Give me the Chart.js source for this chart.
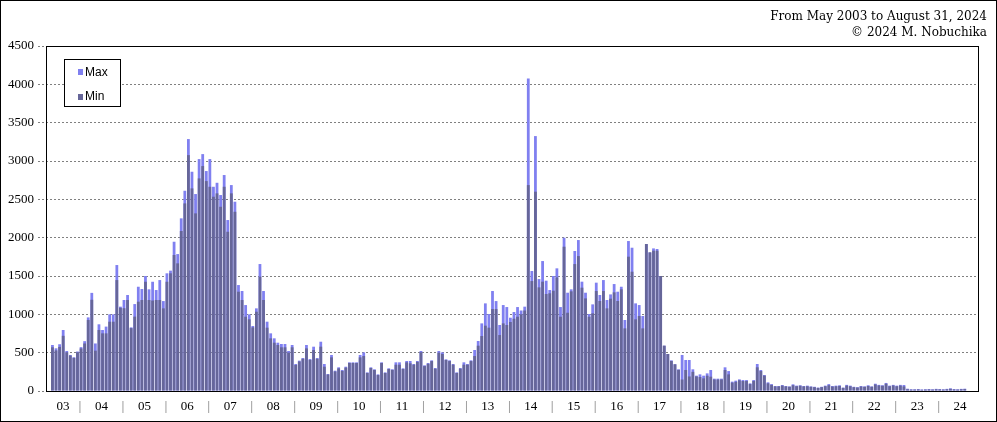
<!DOCTYPE html>
<html>
<head>
<meta charset="utf-8">
<script src="https://cdn.jsdelivr.net/npm/chart.js@4"></script>
<style>
  html, body { margin: 0; padding: 0; background: #fff; }
  #wrap { width: 997px; height: 422px; }
</style>
</head>
<body>
<div id="wrap"><canvas id="chart" width="997" height="422"></canvas></div>
<script>
const headerLines = ['From May 2003 to August 31, 2024', '\u00A9 2024 M. Nobuchika'];
const seriesNames = ['Max', 'Min'];
const seriesColors = ['#8080F0', '#666699'];
const firstYear = 2003;
const firstMonth = 5;
const yearLabels = ['03', '04', '05', '06', '07', '08', '09', '10', '11', '12', '13',
    '14', '15', '16', '17', '18', '19', '20', '21', '22', '23', '24'];
const yTicks = [0, 500, 1000, 1500, 2000, 2500, 3000, 3500, 4000, 4500];

// one row per year, May 2003 .. Aug 2024
const maxValues = [
    600, 557, 610, 796, 522, 470, 440, 515,
    572, 650, 960, 1280, 620, 870, 796, 840, 1000, 1000, 1643, 1100,
    1187, 1252, 830, 1134, 1360, 1330, 1500, 1326, 1425, 1317, 1447, 1173,
    1535, 1570, 1947, 1786, 2252, 2612, 3286, 2860, 2569, 3025, 3090, 2869,
    3025, 2664, 2716, 2556, 2817, 2230, 2686, 2469, 1382, 1304, 1121, 1000,
    848, 1078, 1656, 1304, 904, 752, 687, 630, 613, 613, 522, 600,
    352, 396, 430, 600, 417, 578, 430, 643, 352, 222, 470, 265,
    309, 274, 317, 374, 374, 374, 470, 504, 243, 309, 283, 217,
    374, 243, 296, 283, 374, 374, 296, 391, 391, 352, 391, 522,
    335, 365, 400, 300, 522, 504, 413, 400, 352, 243, 300, 374,
    352, 400, 535, 652, 882, 1143, 1004, 1304, 1173, 861, 1121, 1095,
    956, 1030, 1095, 1050, 1100, 4077, 1565, 3325, 1460, 1695, 1439, 1317,
    1500, 1600, 1095, 2000, 1282, 1326, 1826, 1969, 1426, 1282, 1004, 1130,
    1413, 1252, 1447, 1187, 1260, 1395, 1295, 1360, 926, 1956, 1869, 1143,
    1121, 978, 1917, 1808, 1860, 1852, 1500, 591, 483, 400, 350, 283,
    470, 404, 404, 283, 200, 217, 200, 230, 274, 161, 161, 161,
    309, 260, 122, 135, 152, 143, 143, 100, 143, 352, 274, 209,
    113, 90, 65, 65, 78, 65, 60, 87, 70, 75, 65, 70,
    60, 55, 45, 55, 70, 90, 65, 70, 75, 45, 80, 70,
    55, 50, 65, 60, 75, 60, 95, 80, 75, 105, 70, 80,
    70, 80, 78, 30, 22, 22, 25, 20, 22, 25, 22, 28,
    25, 22, 28, 35, 25, 22, 28, 30
];
const minValues = [
    570, 530, 575, 720, 505, 462, 432, 505,
    555, 620, 926, 1190, 526, 796, 752, 752, 904, 904, 1447, 1085,
    1080, 1187, 820, 970, 1165, 1187, 1425, 1187, 1180, 1187, 1187, 1078,
    1425, 1535, 1774, 1665, 2087, 2447, 3077, 2643, 2317, 2773, 2934, 2738,
    2664, 2534, 2578, 2403, 2664, 2077, 2578, 2338, 1295, 1187, 969, 935,
    830, 1034, 1491, 1187, 826, 687, 630, 600, 570, 570, 500, 570,
    340, 385, 420, 556, 405, 535, 420, 578, 317, 215, 439, 255,
    295, 262, 305, 365, 365, 365, 439, 456, 235, 300, 274, 208,
    365, 235, 287, 275, 343, 343, 287, 374, 361, 343, 380, 505,
    325, 355, 390, 290, 500, 483, 405, 390, 343, 235, 290, 343,
    343, 390, 456, 591, 717, 852, 826, 1069, 1069, 730, 882, 861,
    900, 943, 969, 1000, 1050, 2686, 1434, 2600, 1352, 1426, 1265, 1274,
    1308, 1482, 969, 1882, 1021, 1300, 1656, 1760, 1348, 1208, 969, 1013,
    1304, 1174, 1304, 1078, 1204, 1287, 1174, 1326, 817, 1752, 1556, 935,
    978, 817, 1917, 1808, 1830, 1830, 1500, 591, 483, 391, 348, 275,
    150, 274, 190, 250, 190, 183, 165, 200, 187, 150, 150, 150,
    274, 217, 110, 120, 140, 130, 130, 90, 130, 309, 260, 200,
    100, 80, 60, 60, 70, 60, 55, 75, 62, 68, 60, 62,
    55, 50, 40, 50, 62, 75, 58, 62, 65, 40, 70, 62,
    50, 45, 58, 55, 65, 55, 85, 72, 68, 95, 62, 72,
    62, 70, 60, 22, 18, 18, 20, 16, 18, 20, 18, 22,
    20, 18, 22, 28, 20, 18, 22, 25
];

// month names for each bar
const months = maxValues.map((v, i) => {
    const m = firstMonth - 1 + i;
    return (firstYear + Math.floor(m / 12)) + '-' + String(m % 12 + 1).padStart(2, '0');
});

const X_MIN = -1.8;
const X_MAX = 258.7;

// index of January of a given year
function janIndex(year) {
    return (year - firstYear) * 12 - (firstMonth - 1);
}

// year labels between "|" separators
const xTicks = [];
yearLabels.forEach((lab, k) => {
    const yr = firstYear + k;
    const start = k === 0 ? X_MIN : janIndex(yr) - 0.3;
    const end = janIndex(yr + 1) - 0.3;
    if (k > 0) xTicks.push({ value: start, text: '|', sep: true });
    xTicks.push({ value: (start + end) / 2, text: lab, sep: false });
});

const toPoints = arr => arr.map((v, i) => ({ x: i, y: v }));

const decorPlugin = {
    id: 'decor',
    afterDraw(chart) {
        const ctx = chart.ctx;
        const a = chart.chartArea;
        ctx.save();
        ctx.strokeStyle = '#000';
        ctx.lineWidth = 1;
        // plot frame
        ctx.strokeRect(Math.round(a.left) + 0.5, Math.round(a.top) + 0.5,
            Math.round(a.right - a.left), Math.round(a.bottom - a.top));
        // outer border
        ctx.strokeRect(0.5, 0.5, chart.width - 1, chart.height - 1);

        // header text
        ctx.fillStyle = '#000';
        ctx.font = '12px "DejaVu Serif"';
        ctx.textAlign = 'right';
        ctx.textBaseline = 'alphabetic';
        ctx.fillText(headerLines[0], chart.width - 10, 20);
        ctx.fillText(headerLines[1], chart.width - 10, 36);

        // legend box
        const bx = Math.round(a.left) + 18, by = Math.round(a.top) + 13;
        ctx.fillStyle = '#fff';
        ctx.fillRect(bx, by, 56, 47);
        ctx.strokeRect(bx + 0.5, by + 0.5, 56, 47);
        ctx.font = '12px "Liberation Sans"';
        ctx.textAlign = 'left';
        chart.data.datasets.forEach(ds => {
            const row = seriesNames.indexOf(ds.label);
            ctx.fillStyle = ds.backgroundColor;
            ctx.fillRect(bx + 14, by + 10 + row * 25, 5, 6);
            ctx.fillStyle = '#000';
            ctx.fillText(ds.label, bx + 21, by + 17 + row * 24);
        });
        ctx.restore();
    }
};

new Chart(document.getElementById('chart'), {
    type: 'bar',
    data: {
        labels: months,
        datasets: [
            {
                label: seriesNames[0],
                data: toPoints(maxValues),
                backgroundColor: seriesColors[0],
                order: 1,
                grouped: false,
                barPercentage: 0.78,
                categoryPercentage: 1
            },
            {
                label: seriesNames[1],
                data: toPoints(minValues),
                backgroundColor: seriesColors[1],
                order: 0,
                grouped: false,
                barPercentage: 0.78,
                categoryPercentage: 1
            }
        ]
    },
    options: {
        responsive: false,
        animation: false,
        layout: { padding: { top: 46, right: 19, left: 0, bottom: 0 } },
        plugins: {
            legend: { display: false },
            tooltip: { enabled: false },
            title: { display: false }
        },
        scales: {
            x: {
                type: 'linear',
                min: X_MIN,
                max: X_MAX,
                offset: false,
                bounds: 'data',
                grid: { display: false, drawTicks: false },
                border: { display: false },
                afterBuildTicks: scale => {
                    scale.ticks = xTicks.map(t => ({ value: t.value }));
                },
                afterFit: scale => { scale.height = 31; },
                ticks: {
                    autoSkip: false,
                    maxRotation: 0,
                    padding: 8,
                    callback: (value, index) => xTicks[index].text,
                    color: ctx => (xTicks[ctx.index] && xTicks[ctx.index].sep) ? '#999999' : '#000000',
                    font: ctx => ({
                        family: 'Liberation Serif',
                        size: 13,
                        weight: (xTicks[ctx.index] && xTicks[ctx.index].sep) ? 'bold' : 'normal'
                    })
                }
            },
            y: {
                min: 0,
                max: 4500,
                afterBuildTicks: scale => {
                    scale.ticks = yTicks.map(v => ({ value: v }));
                },
                afterFit: scale => { scale.width = 46; },
                grid: {
                    color: '#808080',
                    lineWidth: 1,
                    tickBorderDash: [2, 2],
                    tickLength: 8
                },
                border: { display: false, dash: [2, 2] },
                ticks: {
                    color: '#000',
                    padding: 4,
                    callback: v => String(v),
                    font: { family: 'Liberation Serif', size: 13 }
                }
            }
        }
    },
    plugins: [decorPlugin]
});
</script>
</body>
</html>
